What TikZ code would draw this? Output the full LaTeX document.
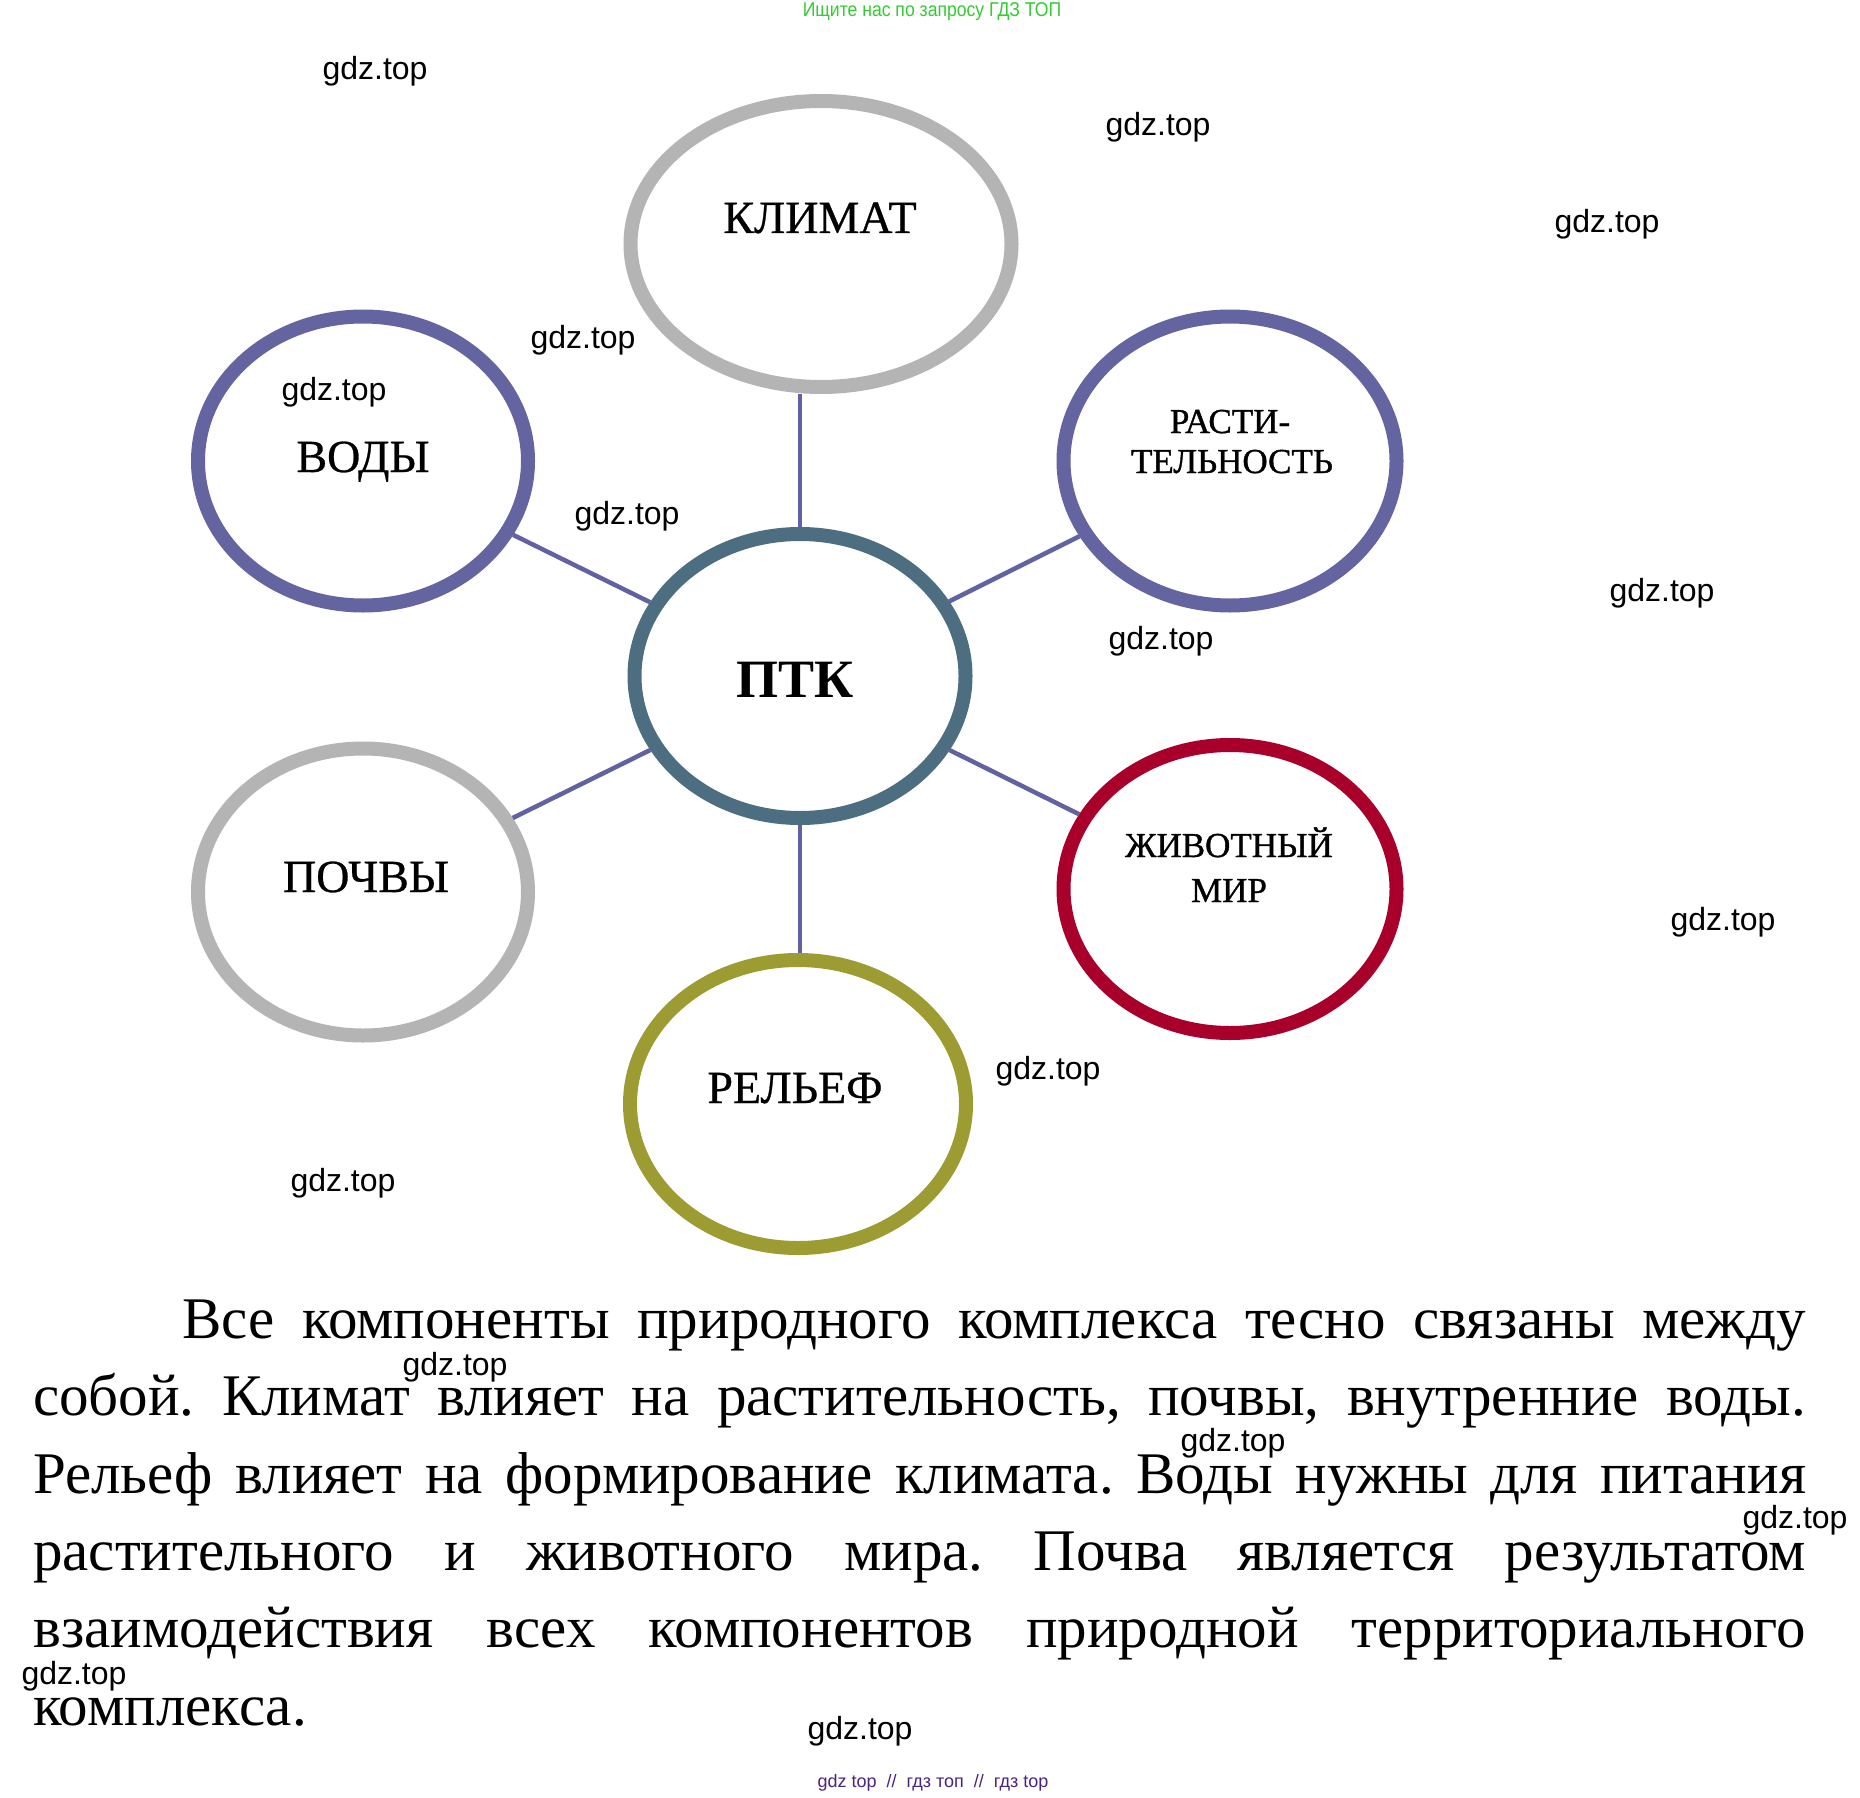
\documentclass[tikz,border=0pt]{standalone}
\usepackage{fontspec}
\setmainfont{Liberation Serif}
\newfontfamily\lblfont[FakeBold=0.6]{Liberation Serif}
\newfontfamily\lblsmfont[FakeBold=1.0]{Liberation Serif}
\newfontfamily\wmfont{Liberation Sans}
\usetikzlibrary{shapes.geometric}
\definecolor{cgray}{HTML}{B4B4B4}
\definecolor{cslate}{HTML}{6464A0}
\definecolor{cptk}{HTML}{4D6E80}
\definecolor{cred}{HTML}{A8002A}
\definecolor{colive}{HTML}{9C9C33}
\definecolor{cline}{HTML}{6262A2}
\definecolor{cgreen}{HTML}{33CC33}
\definecolor{cpurple}{HTML}{4B2380}
\begin{document}
\frenchspacing
\begin{tikzpicture}[x=1pt,y=-1pt,
  oval/.style={ellipse, draw, line width=14pt, inner sep=0pt, fill=white},
  conn/.style={draw=cline, line width=4.5pt},
  lbl/.style={anchor=base, inner sep=0pt, font=\lblfont\fontsize{46pt}{52pt}\selectfont},
  lblsm/.style={anchor=base, inner sep=0pt, font=\lblsmfont\fontsize{35pt}{42pt}\selectfont},
  wm/.style={inner sep=0pt, font=\wmfont\fontsize{32pt}{36pt}\selectfont},
  para/.style={anchor=base west, inner sep=0pt, font=\fontsize{59pt}{70pt}\selectfont}]
\fill[white] (0,0) rectangle (1860,1798);
\useasboundingbox (0,0) rectangle (1860,1798);

% ellipses
\node[oval, draw=cptk, minimum width=331pt, minimum height=284pt] (ptk) at (800,676) {};
\node[oval, draw=cgray, minimum width=381pt, minimum height=286pt] (klimat) at (821,244) {};
\node[oval, draw=cslate, minimum width=330pt, minimum height=289pt] (vody) at (363,461) {};
\node[oval, draw=cgray, minimum width=330pt, minimum height=287pt] (pochvy) at (363,892) {};
\node[oval, draw=colive, minimum width=336pt, minimum height=288pt] (relief) at (798,1104) {};
\node[oval, draw=cslate, minimum width=333pt, minimum height=289pt] (rast) at (1230,461) {};
\node[oval, draw=cred, minimum width=333pt, minimum height=288pt] (zhiv) at (1230,889) {};

% connectors
\draw[conn] (ptk.north) -- (ptk.north |- klimat.south);
\draw[conn] (ptk.south) -- (ptk.south |- relief.north);
\draw[conn] (ptk) -- (vody);
\draw[conn] (ptk) -- (pochvy);
\draw[conn] (ptk) -- (rast);
\draw[conn] (ptk) -- (zhiv);

% labels
\node[lbl] (klimatT) at (820,233) {КЛИМАТ};
\node[lbl] (vodyT) at (363,472) {ВОДЫ};
\node[lbl] (pochvyT) at (366,892) {ПОЧВЫ};
\node[lbl] (reliefT) at (795,1103) {РЕЛЬЕФ};
\node[lblsm] (rastTa) at (1230,433) {РАСТИ-};
\node[lblsm] (rastTb) at (1232,473) {ТЕЛЬНОСТЬ};
\node[lblsm] (zhivTa) at (1229,857) {ЖИВОТНЫЙ};
\node[lblsm] (zhivTb) at (1229,902) {МИР};
\node[anchor=base, inner sep=0pt, font=\bfseries\fontsize{54pt}{60pt}\selectfont] (ptkT) at (795,697) {ПТК};

% paragraph
\node[para] (l1) at (182,1338) {\makebox[1624pt][s]{Все компоненты природного комплекса тесно связаны между}};
\node[para] (l2) at (33,1415) {\makebox[1773pt][s]{собой. Климат влияет на растительность, почвы, внутренние воды.}};
\node[para] (l3) at (33,1493) {\makebox[1773pt][s]{Рельеф влияет на формирование климата. Воды нужны для питания}};
\node[para] (l4) at (33,1570) {\makebox[1773pt][s]{растительного и животного мира. Почва является результатом}};
\node[para] (l5) at (33,1647) {\makebox[1773pt][s]{взаимодействия всех компонентов природной территориального}};
\node[para] (l6) at (33,1725) {комплекса.};

% header / footer
\node[inner sep=0pt, text=cgreen, font=\wmfont\fontsize{20pt}{24pt}\selectfont] (hdr) at (932,12) {\scalebox{0.88}[1]{Ищите нас по запросу ГДЗ ТОП}};
\node[inner sep=0pt, text=cpurple, font=\wmfont\fontsize{18pt}{21pt}\selectfont] (ftr) at (933,1783) {gdz top\ \ //\ \ гдз топ\ \ //\ \ гдз top};

% watermarks
\node[wm] (w1) at (375,71) {gdz.top};
\node[wm] (w2) at (1158,127) {gdz.top};
\node[wm] (w3) at (1607,224) {gdz.top};
\node[wm] (w4) at (583,340) {gdz.top};
\node[wm] (w5) at (334,392) {gdz.top};
\node[wm] (w6) at (627,516) {gdz.top};
\node[wm] (w7) at (1662,593) {gdz.top};
\node[wm] (w8) at (1161,641) {gdz.top};
\node[wm] (w9) at (1723,922) {gdz.top};
\node[wm] (w10) at (1048,1071) {gdz.top};
\node[wm] (w11) at (343,1183) {gdz.top};
\node[wm] (w12) at (455,1367) {gdz.top};
\node[wm] (w13) at (1233,1443) {gdz.top};
\node[wm] (w14) at (1795,1520) {gdz.top};
\node[wm] (w15) at (74,1676) {gdz.top};
\node[wm] (w16) at (860,1731) {gdz.top};
\end{tikzpicture}
\end{document}
